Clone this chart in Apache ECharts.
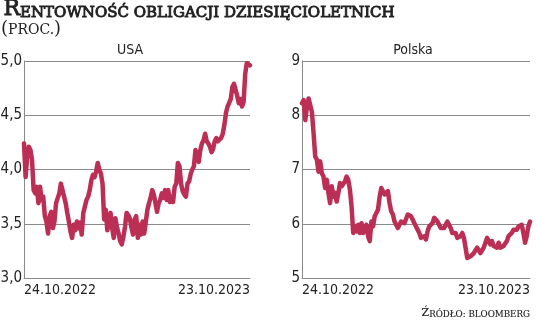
<!DOCTYPE html>
<html>
<head>
<meta charset="utf-8">
<script src="https://cdn.jsdelivr.net/npm/echarts@6/dist/echarts.min.js"></script>
<style>
html,body{margin:0;padding:0;background:#fff;}
#chart{width:536px;height:323px;}
</style>
</head>
<body>
<div id="chart"></div>
<script>
// ---- data ----
const chartTitle = 'Rentowność obligacji dziesięcioletnich';
const chartSubtitle = '(proc.)';
const sourceText = 'Źródło: bloomberg';
const panelNames = ['USA', 'Polska'];
const xTickLabels = ['24.10.2022', '23.10.2023'];
const usaTicks = [3.0, 3.5, 4.0, 4.5, 5.0];
const plTicks = [5, 6, 7, 8, 9];

const usaYield = [4.24, 3.93, 4.12, 4.21, 4.18, 4.09, 3.81, 3.78, 3.84, 3.69, 3.84, 3.72, 3.75,
  3.57, 3.52, 3.41, 3.57, 3.61, 3.46, 3.52, 3.69, 3.69, 3.78, 3.87, 3.87, 3.75, 3.69, 3.60,
  3.52, 3.43, 3.37, 3.49, 3.44, 3.52, 3.46, 3.51, 3.40, 3.60, 3.66, 3.72, 3.75, 3.81, 3.90,
  3.95, 3.93, 3.98, 4.06, 4.00, 3.96, 3.87, 3.54, 3.63, 3.44, 3.52, 3.60, 3.46, 3.37, 3.55,
  3.47, 3.41, 3.34, 3.31, 3.38, 3.47, 3.60, 3.58, 3.55, 3.47, 3.40, 3.54, 3.57, 3.37, 3.49,
  3.40, 3.52, 3.41, 3.52, 3.63, 3.69, 3.74, 3.81, 3.77, 3.69, 3.61, 3.69, 3.72, 3.78, 3.74,
  3.81, 3.72, 3.81, 3.70, 3.75, 3.70, 3.84, 3.87, 4.06, 4.03, 3.87, 3.80, 3.77, 3.75, 3.87,
  3.89, 3.96, 4.00, 4.03, 4.18, 4.12, 4.07, 4.18, 4.24, 4.27, 4.33, 4.26, 4.24, 4.21, 4.16,
  4.19, 4.26, 4.29, 4.26, 4.27, 4.29, 4.33, 4.41, 4.52, 4.58, 4.59, 4.65, 4.76, 4.79, 4.79,
  4.68, 4.61, 4.65, 4.58, 4.62, 4.88, 4.98, 4.99, 4.96];

const plYield = [8.22, 8.28, 7.91, 8.16, 8.31, 8.28, 8.06, 7.67, 7.24, 7.18, 6.96, 7.15, 6.93,
  6.87, 6.66, 6.81, 6.57, 6.38, 6.69, 6.50, 6.57, 6.41, 6.57, 6.75, 6.69, 6.66, 6.78, 6.87,
  6.81, 6.63, 6.32, 5.83, 5.95, 5.86, 5.98, 5.83, 6.01, 5.83, 5.92, 5.98, 5.77, 5.68, 6.04,
  5.95, 6.14, 6.20, 6.26, 6.50, 6.66, 6.60, 6.54, 6.57, 6.60, 6.38, 6.23, 6.17, 6.04, 5.98,
  5.92, 5.95, 6.04, 6.04, 6.01, 6.04, 6.17, 6.20, 6.14, 6.11, 6.01, 5.95, 5.89, 5.83, 5.74,
  5.71, 5.77, 5.71, 5.86, 5.95, 5.95, 6.01, 6.11, 6.14, 6.04, 5.98, 5.92, 5.89, 5.92, 5.98,
  6.04, 6.01, 5.92, 5.83, 5.80, 5.83, 5.74, 5.71, 5.77, 5.83, 5.74, 5.56, 5.37, 5.37, 5.40,
  5.40, 5.46, 5.43, 5.56, 5.53, 5.46, 5.46, 5.56, 5.59, 5.74, 5.71, 5.62, 5.68, 5.59, 5.56,
  5.56, 5.65, 5.56, 5.53, 5.59, 5.62, 5.68, 5.77, 5.77, 5.83, 5.89, 5.92, 5.89, 5.95, 5.92,
  5.98, 5.83, 5.65, 5.77, 5.95, 6.04];

// ---- chart ----
const LINE = '#bb2f55';
const GRID = '#8a8a8a';
const NUM_FONT = "DejaVu Sans Condensed";
const SERIF = "DejaVu Serif";
const INK = '#222';

function xAxisFor(idx, n) {
  return {
    type: 'category', gridIndex: idx, boundaryGap: false,
    data: Array.from({length: n}, (_, i) => i),
    axisTick: {show: false},
    axisLine: {show: true, lineStyle: {color: GRID, width: 1}},
    splitLine: {show: false},
    axisLabel: {
      show: true, margin: 5, color: INK, fontFamily: NUM_FONT, fontSize: 14,
      interval: (i) => i === 0 || i === n - 1,
      formatter: (v) => (Number(v) === 0 ? xTickLabels[0] : xTickLabels[1]),
      alignMinLabel: 'left', alignMaxLabel: 'right'
    }
  };
}
function yAxisFor(idx, ticks, dec) {
  return {
    type: 'value', gridIndex: idx,
    min: ticks[0], max: ticks[ticks.length - 1], interval: ticks[1] - ticks[0],
    axisLine: {show: true, lineStyle: {color: GRID, width: 1}},
    axisTick: {show: false},
    splitLine: {show: true, lineStyle: {color: GRID, width: 1}},
    axisLabel: {
      margin: 2, color: INK, fontFamily: NUM_FONT, fontSize: 15,
      formatter: (v) => v.toFixed(dec).replace('.', ',')
    }
  };
}

function smallCaps(str, big, small, stroke) {
  // first letter full size, rest rendered as small capitals
  const first = str.charAt(0), rest = str.slice(1);
  const base = {fontFamily: SERIF, fill: INK, verticalAlign: 'bottom'};
  if (stroke > 0) { base.stroke = INK; base.lineWidth = stroke; }
  return {
    text: '{a|' + first.toUpperCase() + '}{b|' + rest.toUpperCase() + '}',
    rich: {
      a: Object.assign({fontSize: big}, base),
      b: Object.assign({fontSize: small}, base)
    }
  };
}

const subParts = chartSubtitle.match(/^(\()(.*)(\))$/);

const chart = echarts.init(document.getElementById('chart'), null, {renderer: 'canvas'});
chart.setOption({
  animation: false,
  backgroundColor: '#fff',
  grid: [
    {left: 24, right: 286, top: 61, bottom: 45, outerBoundsMode: 'none', containLabel: false},
    {left: 302, right: 6, top: 61, bottom: 45, outerBoundsMode: 'none', containLabel: false}
  ],
  xAxis: [xAxisFor(0, usaYield.length), xAxisFor(1, plYield.length)],
  yAxis: [yAxisFor(0, usaTicks, 1), yAxisFor(1, plTicks, 0)],
  series: [
    {type: 'line', xAxisIndex: 0, yAxisIndex: 0, data: usaYield, showSymbol: false,
     lineStyle: {color: LINE, width: 4.5, join: 'round', cap: 'round'}},
    {type: 'line', xAxisIndex: 1, yAxisIndex: 1, data: plYield, showSymbol: false,
     lineStyle: {color: LINE, width: 4.5, join: 'round', cap: 'round'}}
  ],
  graphic: [
    {type: 'text', left: 3, top: -2, style: smallCaps(chartTitle, 22, 15, 0.9)},
    {type: 'text', left: 1, top: 20, style: {
      text: '{p|' + subParts[1] + '}{q|' + subParts[2].toUpperCase() + '}{p|' + subParts[3] + '}',
      rich: {
        p: {fontFamily: SERIF, fontSize: 18, fill: INK, verticalAlign: 'bottom'},
        q: {fontFamily: SERIF, fontSize: 14, fill: INK, verticalAlign: 'bottom', padding: [0, 0, 1, 0]}
      }}},
    {type: 'text', right: 6, top: 308, style: smallCaps(sourceText, 11, 8.7, 0.15)},
    {type: 'text', x: 130, y: 50, style: {text: panelNames[0], fontFamily: NUM_FONT, fontSize: 14,
      fill: INK, align: 'center', verticalAlign: 'middle'}},
    {type: 'text', x: 413, y: 50, style: {text: panelNames[1], fontFamily: NUM_FONT, fontSize: 14,
      fill: INK, align: 'center', verticalAlign: 'middle'}}
  ]
});
</script>
</body>
</html>
